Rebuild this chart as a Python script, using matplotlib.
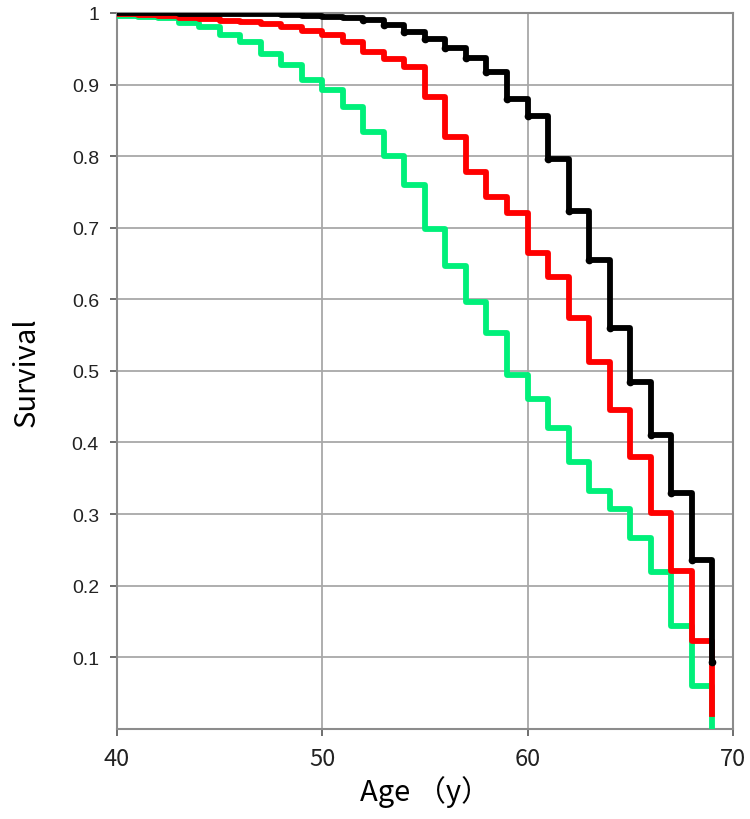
import matplotlib
matplotlib.use('Agg')
import matplotlib.pyplot as plt

# yearly survival (ages 40..69)
ages = list(range(40, 70))
surv_black = [1.0, 1.0, 1.0, 0.999, 0.999, 0.999, 0.998, 0.998, 0.997, 0.996,
              0.995, 0.993, 0.99, 0.983, 0.974, 0.963, 0.951, 0.937, 0.917, 0.88,
              0.856, 0.796, 0.724, 0.655, 0.56, 0.485, 0.41, 0.33, 0.236, 0.093]
surv_red = [0.998, 0.997, 0.996, 0.993, 0.991, 0.989, 0.987, 0.984, 0.981, 0.975,
            0.969, 0.96, 0.945, 0.936, 0.924, 0.882, 0.827, 0.778, 0.743, 0.72,
            0.665, 0.631, 0.574, 0.513, 0.445, 0.38, 0.302, 0.22, 0.122, 0.02]
surv_green = [0.996, 0.995, 0.993, 0.986, 0.98, 0.969, 0.959, 0.942, 0.927, 0.906,
              0.893, 0.869, 0.834, 0.80, 0.759, 0.698, 0.646, 0.596, 0.553, 0.494,
              0.461, 0.42, 0.373, 0.332, 0.307, 0.267, 0.219, 0.144, 0.06, 0.0]

x_ticks = [40, 50, 60, 70]
y_ticks = [0.1, 0.2, 0.3, 0.4, 0.5, 0.6, 0.7, 0.8, 0.9, 1.0]
y_labels = ['0.1', '0.2', '0.3', '0.4', '0.5', '0.6', '0.7', '0.8', '0.9', '1']

fig = plt.figure(figsize=(7.5, 8.2), dpi=100)
ax = fig.add_axes([0.156, 0.110, 0.821, 0.873])

ax.plot(ages, surv_green, drawstyle='steps-post', color='#00f07a', lw=4.2,
        solid_joinstyle='round', zorder=3)
ax.plot(ages, surv_red, drawstyle='steps-post', color='#ff0000', lw=4.2,
        solid_joinstyle='round', zorder=4)
ax.plot(ages, surv_black, drawstyle='steps-post', color='black', lw=4.2,
        solid_joinstyle='round', zorder=5)
ax.plot(ages[12:], surv_black[12:], 'o', color='black', ms=4.5, zorder=5)

ax.set_xlim(40, 70)
ax.set_ylim(0, 1)
ax.set_xticks(x_ticks)
ax.set_yticks(y_ticks)
ax.set_yticklabels(y_labels)
ax.grid(True, color='#a8a8a8', lw=1.3, zorder=0)
ax.set_axisbelow(True)
for s in ax.spines.values():
    s.set_color('#8c8c8c')
    s.set_linewidth(1.5)

ax.tick_params(axis='y', direction='out', length=5, width=1.2, color='#555555',
               labelsize=14, labelcolor='#222222', pad=8)
ax.tick_params(axis='x', direction='out', length=5, width=1.2, color='#555555',
               labelsize=17, labelcolor='#222222', pad=8)
for lab in ax.get_yticklabels():
    lab.set_family(['Liberation Sans', 'DejaVu Sans'])
for lab in ax.get_xticklabels():
    lab.set_family(['Noto Sans CJK JP', 'DejaVu Sans'])

ax.set_xlabel('Age （y）', family=['Noto Sans CJK JP', 'DejaVu Sans'],
              fontsize=21, labelpad=4)
ax.set_ylabel('Survival', family=['Noto Sans CJK JP', 'DejaVu Sans'],
              fontsize=21, labelpad=22)

fig.savefig('out.png', dpi=100)
